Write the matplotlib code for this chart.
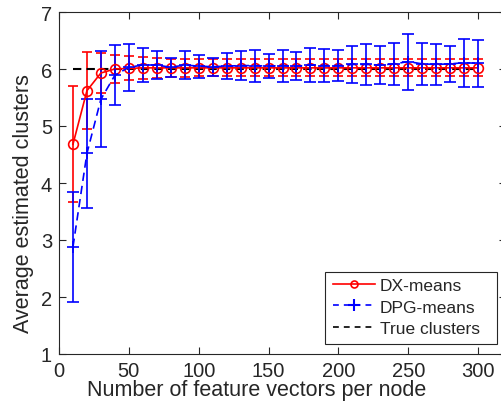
import matplotlib
matplotlib.use("Agg")
import matplotlib.pyplot as plt
from matplotlib.lines import Line2D
from matplotlib.patches import Rectangle
import numpy as np

plt.rcParams['font.family'] = ['Liberation Sans', 'DejaVu Sans']

# feature vectors per node
n_vec = np.arange(10, 310, 10)

# DX-means: mean and error
dx_mean = [4.68, 5.62, 5.93, 6.00, 6.01, 6.02, 6.02, 6.02, 6.02, 6.02,
           6.02, 6.02, 6.02, 6.02, 6.02, 6.02, 6.02, 6.02, 6.02, 6.02,
           6.02, 6.02, 6.02, 6.02, 6.02, 6.02, 6.02, 6.02, 6.02, 6.02]
dx_err = [1.02, 0.68, 0.35, 0.25, 0.21, 0.19, 0.18, 0.16, 0.16, 0.15,
          0.15, 0.15, 0.15, 0.15, 0.15, 0.15, 0.15, 0.15, 0.15, 0.15,
          0.15, 0.15, 0.15, 0.15, 0.15, 0.15, 0.15, 0.15, 0.15, 0.15]

# DPG-means: mean and error
dpg_mean = [2.88, 4.52, 5.47, 5.89, 6.03, 6.07, 6.07, 6.03, 6.07, 6.05,
            6.04, 6.05, 6.06, 6.06, 6.05, 6.06, 6.05, 6.07, 6.06, 6.06,
            6.08, 6.08, 6.07, 6.09, 6.13, 6.09, 6.08, 6.09, 6.11, 6.10]
dpg_err = [0.96, 0.95, 0.84, 0.53, 0.41, 0.30, 0.25, 0.17, 0.25, 0.20,
           0.16, 0.23, 0.26, 0.28, 0.21, 0.28, 0.24, 0.30, 0.29, 0.27,
           0.33, 0.36, 0.34, 0.37, 0.49, 0.37, 0.36, 0.32, 0.42, 0.41]

true_k = [6] * len(n_vec)

fig = plt.figure(figsize=(5.02, 4.14), dpi=100)
ax = fig.add_axes([59 / 502, 59 / 414, (506 - 59) / 502, (355 - 13) / 414])

dash = (0, (5, 3))
ax.errorbar(n_vec, dx_mean, yerr=dx_err, color='red', ls='-', lw=1.2,
            marker='o', mfc='none', ms=7, mew=1.2, capsize=3.5, elinewidth=1.2)
ax.errorbar(n_vec, dpg_mean, yerr=dpg_err, color='blue', ls=dash, lw=1.2,
            marker='+', ms=9, mew=1.2, capsize=4, elinewidth=1.2)
ax.plot(n_vec, true_k, color='black', ls=(0, (4, 2.5)), lw=1.5)

ax.set_xlim(0, 320)
ax.set_ylim(1, 7)
ax.set_xticks([0, 50, 100, 150, 200, 250, 300])
ax.set_yticks([1, 2, 3, 4, 5, 6, 7])

gray = '#262626'
for s in ax.spines.values():
    s.set_color(gray)
    s.set_linewidth(0.8)
ax.tick_params(direction='in', length=5, width=0.8, colors=gray, labelsize=14.5,
               top=True, right=True, pad=5)
ax.set_xlabel('Number of feature vectors per node', fontsize=15.5, color=gray)
ax.set_ylabel('Average estimated clusters', fontsize=15.5, color=gray)
ax.xaxis.set_label_coords((257 - 59) / 447, -(380 - 355) / 342)
ax.yaxis.set_label_coords((34 - 59) / 447, (355 - 204) / 342)

# legend: frame drawn separately to get MATLAB-like padding
fig.patches.append(Rectangle((325 / 502, (414 - 345) / 414), 172 / 502, 72 / 414,
                             transform=fig.transFigure, facecolor='white',
                             edgecolor=gray, lw=0.8, zorder=5))
handles = [
    Line2D([], [], color='red', ls='-', lw=1.2, marker='o', mfc='none', ms=5, mew=1.2),
    Line2D([], [], color='blue', ls=(0, (3.5, 3)), lw=1.2, marker='+', ms=9, mew=1.5),
    Line2D([], [], color='black', ls=(0, (3.5, 3)), lw=1.2),
]
labels = ['DX-means', 'DPG-means', 'True clusters']
leg = fig.legend(handles, labels, loc='upper left',
                 bbox_to_anchor=(333 / 502, (414 - 279) / 414),
                 bbox_transform=fig.transFigure, borderaxespad=0,
                 fontsize=12.5, handlelength=2.4, labelspacing=0.36,
                 handletextpad=0.3, borderpad=0, frameon=False)
leg.set_zorder(6)
for t in leg.get_texts():
    t.set_color(gray)

fig.savefig('out.png', dpi=100)
